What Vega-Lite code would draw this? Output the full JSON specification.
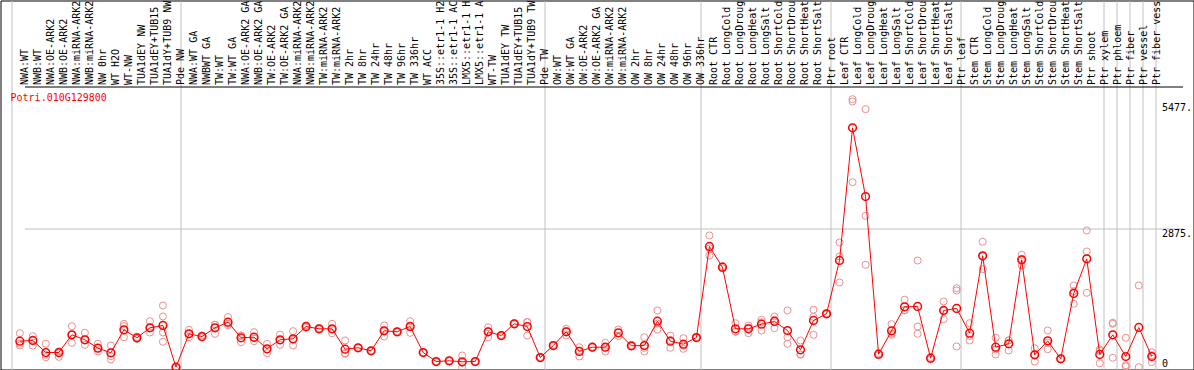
{
  "$schema": "https://vega.github.io/schema/vega-lite/v6.json",
  "width": 1193,
  "height": 369,
  "padding": {"left": 0.5, "top": 0.5, "right": 0, "bottom": 0},
  "autosize": {"type": "none"},
  "background": "white",
  "config": {"view": {"stroke": "black", "strokeWidth": 1}, "font": "DejaVu Sans Mono"},
  "datasets": {
    "means": [
      {"n": 1, "v": 540}, {"n": 2, "v": 555}, {"n": 3, "v": 305}, {"n": 4, "v": 305}, {"n": 5, "v": 673},
      {"n": 6, "v": 569}, {"n": 7, "v": 395}, {"n": 8, "v": 299}, {"n": 9, "v": 777}, {"n": 10, "v": 611},
      {"n": 11, "v": 818}, {"n": 12, "v": 866}, {"n": 13, "v": 0}, {"n": 14, "v": 693}, {"n": 15, "v": 637},
      {"n": 16, "v": 818}, {"n": 17, "v": 935}, {"n": 18, "v": 611}, {"n": 19, "v": 623}, {"n": 20, "v": 382},
      {"n": 21, "v": 569}, {"n": 22, "v": 590}, {"n": 23, "v": 845}, {"n": 24, "v": 797}, {"n": 25, "v": 797},
      {"n": 26, "v": 374}, {"n": 27, "v": 403}, {"n": 28, "v": 341}, {"n": 29, "v": 756}, {"n": 30, "v": 735},
      {"n": 31, "v": 845}, {"n": 32, "v": 305}, {"n": 33, "v": 118}, {"n": 34, "v": 133}, {"n": 35, "v": 112},
      {"n": 36, "v": 118}, {"n": 37, "v": 735}, {"n": 38, "v": 658}, {"n": 39, "v": 901}, {"n": 40, "v": 845},
      {"n": 41, "v": 201}, {"n": 42, "v": 450}, {"n": 43, "v": 735}, {"n": 44, "v": 326}, {"n": 45, "v": 415},
      {"n": 46, "v": 415}, {"n": 47, "v": 714}, {"n": 48, "v": 444}, {"n": 49, "v": 450}, {"n": 50, "v": 955},
      {"n": 51, "v": 540}, {"n": 52, "v": 478}, {"n": 53, "v": 615}, {"n": 54, "v": 2507}, {"n": 55, "v": 2077},
      {"n": 56, "v": 797}, {"n": 57, "v": 797}, {"n": 58, "v": 893}, {"n": 59, "v": 949}, {"n": 60, "v": 762},
      {"n": 61, "v": 361}, {"n": 62, "v": 970}, {"n": 63, "v": 1109}, {"n": 64, "v": 2216}, {"n": 65, "v": 4972},
      {"n": 66, "v": 3545}, {"n": 67, "v": 270}, {"n": 68, "v": 756}, {"n": 69, "v": 1254}, {"n": 70, "v": 1261},
      {"n": 71, "v": 187}, {"n": 72, "v": 1178}, {"n": 73, "v": 1219}, {"n": 74, "v": 706}, {"n": 75, "v": 2314},
      {"n": 76, "v": 415}, {"n": 77, "v": 486}, {"n": 78, "v": 2231}, {"n": 79, "v": 258}, {"n": 80, "v": 548},
      {"n": 81, "v": 174}, {"n": 82, "v": 1531}, {"n": 83, "v": 2251}, {"n": 84, "v": 264}, {"n": 85, "v": 673},
      {"n": 86, "v": 222}, {"n": 87, "v": 825}, {"n": 88, "v": 222}
    ],
    "reps": [
      {"n": 1, "v": 706}, {"n": 1, "v": 486}, {"n": 1, "v": 450},
      {"n": 2, "v": 644}, {"n": 2, "v": 555}, {"n": 2, "v": 450},
      {"n": 3, "v": 486}, {"n": 3, "v": 258}, {"n": 3, "v": 208},
      {"n": 4, "v": 330}, {"n": 4, "v": 290}, {"n": 4, "v": 215},
      {"n": 5, "v": 852}, {"n": 5, "v": 673}, {"n": 5, "v": 507},
      {"n": 6, "v": 714}, {"n": 6, "v": 569}, {"n": 6, "v": 465},
      {"n": 7, "v": 486}, {"n": 7, "v": 395}, {"n": 7, "v": 326},
      {"n": 8, "v": 450}, {"n": 8, "v": 228}, {"n": 8, "v": 160},
      {"n": 9, "v": 901}, {"n": 9, "v": 852}, {"n": 9, "v": 623},
      {"n": 10, "v": 630}, {"n": 10, "v": 611}, {"n": 10, "v": 590},
      {"n": 11, "v": 955}, {"n": 11, "v": 818}, {"n": 11, "v": 721},
      {"n": 12, "v": 1281}, {"n": 12, "v": 1053}, {"n": 12, "v": 880}, {"n": 12, "v": 721}, {"n": 12, "v": 528},
      {"n": 13, "v": 0}, {"n": 13, "v": 0},
      {"n": 14, "v": 777}, {"n": 14, "v": 623}, {"n": 14, "v": 693},
      {"n": 15, "v": 660}, {"n": 15, "v": 620},
      {"n": 16, "v": 880}, {"n": 16, "v": 693}, {"n": 16, "v": 880},
      {"n": 17, "v": 1039}, {"n": 17, "v": 901}, {"n": 17, "v": 870},
      {"n": 18, "v": 658}, {"n": 18, "v": 519}, {"n": 18, "v": 655},
      {"n": 19, "v": 727}, {"n": 19, "v": 540}, {"n": 19, "v": 600},
      {"n": 20, "v": 486}, {"n": 20, "v": 291}, {"n": 20, "v": 370},
      {"n": 21, "v": 679}, {"n": 21, "v": 465}, {"n": 21, "v": 560},
      {"n": 22, "v": 748}, {"n": 22, "v": 450}, {"n": 22, "v": 570},
      {"n": 23, "v": 870}, {"n": 23, "v": 820},
      {"n": 24, "v": 810}, {"n": 24, "v": 785},
      {"n": 25, "v": 901}, {"n": 25, "v": 706}, {"n": 25, "v": 785},
      {"n": 26, "v": 555}, {"n": 26, "v": 278}, {"n": 26, "v": 290},
      {"n": 27, "v": 410}, {"n": 27, "v": 395},
      {"n": 28, "v": 350}, {"n": 28, "v": 332},
      {"n": 29, "v": 866}, {"n": 29, "v": 637}, {"n": 29, "v": 765},
      {"n": 30, "v": 745}, {"n": 30, "v": 725},
      {"n": 31, "v": 955}, {"n": 31, "v": 714}, {"n": 31, "v": 866},
      {"n": 32, "v": 310}, {"n": 32, "v": 300},
      {"n": 33, "v": 125}, {"n": 33, "v": 110},
      {"n": 34, "v": 140}, {"n": 34, "v": 126},
      {"n": 35, "v": 243}, {"n": 35, "v": 0}, {"n": 35, "v": 93},
      {"n": 36, "v": 125}, {"n": 36, "v": 110},
      {"n": 37, "v": 831}, {"n": 37, "v": 623}, {"n": 37, "v": 750},
      {"n": 38, "v": 670}, {"n": 38, "v": 645},
      {"n": 39, "v": 915}, {"n": 39, "v": 890},
      {"n": 40, "v": 935}, {"n": 40, "v": 658}, {"n": 40, "v": 940},
      {"n": 41, "v": 210}, {"n": 41, "v": 192},
      {"n": 42, "v": 460}, {"n": 42, "v": 440},
      {"n": 43, "v": 797}, {"n": 43, "v": 658}, {"n": 43, "v": 750},
      {"n": 44, "v": 415}, {"n": 44, "v": 222}, {"n": 44, "v": 340},
      {"n": 45, "v": 425}, {"n": 45, "v": 405},
      {"n": 46, "v": 507}, {"n": 46, "v": 326}, {"n": 46, "v": 410},
      {"n": 47, "v": 783}, {"n": 47, "v": 645},
      {"n": 48, "v": 455}, {"n": 48, "v": 433},
      {"n": 49, "v": 623}, {"n": 49, "v": 326}, {"n": 49, "v": 400},
      {"n": 50, "v": 1178}, {"n": 50, "v": 783}, {"n": 50, "v": 905},
      {"n": 51, "v": 658}, {"n": 51, "v": 403}, {"n": 51, "v": 560},
      {"n": 52, "v": 602}, {"n": 52, "v": 382}, {"n": 52, "v": 450},
      {"n": 53, "v": 625}, {"n": 53, "v": 605},
      {"n": 54, "v": 2735}, {"n": 54, "v": 2320}, {"n": 54, "v": 2466},
      {"n": 55, "v": 2100}, {"n": 55, "v": 2054},
      {"n": 56, "v": 914}, {"n": 56, "v": 741}, {"n": 56, "v": 736},
      {"n": 57, "v": 866}, {"n": 57, "v": 706}, {"n": 57, "v": 820},
      {"n": 58, "v": 984}, {"n": 58, "v": 762}, {"n": 58, "v": 933},
      {"n": 59, "v": 1053}, {"n": 59, "v": 810}, {"n": 59, "v": 985},
      {"n": 60, "v": 1178}, {"n": 60, "v": 623}, {"n": 60, "v": 486},
      {"n": 61, "v": 555}, {"n": 61, "v": 258}, {"n": 61, "v": 270},
      {"n": 62, "v": 1192}, {"n": 62, "v": 673}, {"n": 62, "v": 1045},
      {"n": 63, "v": 1120}, {"n": 63, "v": 1098},
      {"n": 64, "v": 2590}, {"n": 64, "v": 2299}, {"n": 64, "v": 1760},
      {"n": 65, "v": 5566}, {"n": 65, "v": 5518}, {"n": 65, "v": 3842},
      {"n": 66, "v": 5359}, {"n": 66, "v": 3145}, {"n": 66, "v": 2127},
      {"n": 67, "v": 290}, {"n": 67, "v": 250},
      {"n": 68, "v": 893}, {"n": 68, "v": 673}, {"n": 68, "v": 700},
      {"n": 69, "v": 1400}, {"n": 69, "v": 1178}, {"n": 69, "v": 1185},
      {"n": 70, "v": 2216}, {"n": 70, "v": 845}, {"n": 70, "v": 693},
      {"n": 71, "v": 210}, {"n": 71, "v": 165},
      {"n": 72, "v": 1365}, {"n": 72, "v": 997}, {"n": 72, "v": 1172},
      {"n": 73, "v": 1641}, {"n": 73, "v": 1593}, {"n": 73, "v": 430},
      {"n": 74, "v": 914}, {"n": 74, "v": 555}, {"n": 74, "v": 650},
      {"n": 75, "v": 2605}, {"n": 75, "v": 2035}, {"n": 75, "v": 2302},
      {"n": 76, "v": 611}, {"n": 76, "v": 264}, {"n": 76, "v": 370},
      {"n": 77, "v": 555}, {"n": 77, "v": 347}, {"n": 77, "v": 556},
      {"n": 78, "v": 2335}, {"n": 78, "v": 2112}, {"n": 78, "v": 2246},
      {"n": 79, "v": 395}, {"n": 79, "v": 118}, {"n": 79, "v": 261},
      {"n": 80, "v": 762}, {"n": 80, "v": 374}, {"n": 80, "v": 508},
      {"n": 81, "v": 185}, {"n": 81, "v": 163},
      {"n": 82, "v": 1697}, {"n": 82, "v": 1317}, {"n": 82, "v": 1580},
      {"n": 83, "v": 2839}, {"n": 83, "v": 2403}, {"n": 83, "v": 1545},
      {"n": 84, "v": 368}, {"n": 84, "v": 83}, {"n": 84, "v": 340},
      {"n": 85, "v": 901}, {"n": 85, "v": 195}, {"n": 85, "v": 923},
      {"n": 86, "v": 611}, {"n": 86, "v": 15}, {"n": 86, "v": 40},
      {"n": 87, "v": 1697}, {"n": 87, "v": 0},
      {"n": 88, "v": 312}, {"n": 88, "v": 104}, {"n": 88, "v": 250}
    ]
  },
  "encoding": {
    "x": {
      "field": "n", "type": "ordinal", "bandPosition": 0.64,
      "scale": {
        "type": "band", "paddingInner": 0, "paddingOuter": 0, "range": [11, 1169],
        "domain": [1,2,3,4,5,6,7,8,9,10,11,12,13,14,15,16,17,18,19,20,21,22,23,24,25,26,27,28,29,30,31,32,33,34,35,36,37,38,39,40,41,42,43,44,45,46,47,48,49,50,51,52,53,54,55,56,57,58,59,60,61,62,63,64,65,66,67,68,69,70,71,72,73,74,75,76,77,78,79,80,81,82,83,84,85,86,87,88,89]
      },
      "axis": {
        "orient": "top", "ticks": false, "domain": false, "title": null,
        "grid": true, "gridColor": "#c0c0c0", "gridWidth": 1,
        "gridOpacity": {"condition": {"test": "indexof([1,14,42,54,64,74,85,86,87,88,89], datum.value) >= 0", "value": 1}, "value": 0},
        "bandPosition": 0, "labelOffset": 9.8,
        "labelAngle": 270, "labelAlign": "left", "labelBaseline": "alphabetic", "labelPadding": -84,
        "labelFont": "DejaVu Sans Mono", "labelFontSize": 10, "labelColor": "black",
        "labelOverlap": false, "labelBound": false, "labelLimit": 200,
        "labelExpr": "datum.value > 88 ? '' : ['NWA:WT','NWB:WT','NWA:OE-ARK2','NWB:OE-ARK2','NWA:miRNA-ARK2','NWB:miRNA-ARK2','NW 0hr','WT H2O','WT-NW','TUA1dEY NW','TUA1dEY+TUB15','TUA1dY+TUB9 NW','Pde NW','NWA:WT GA','NWBWT GA','TW:WT','TW:WT GA','NWA:OE-ARK2 GA','NWB:OE-ARK2 GA','TW:OE-ARK2','TW:OE-ARK2 GA','NWA:miRNA-ARK2','NWB:miRNA-ARK2','TW:miRNA-ARK2','TW:miRNA-ARK2','TW 2hr','TW 8hr','TW 24hr','TW 48hr','TW 96hr','TW 336hr','WT ACC','35S::etr1-1 H2','35S::etr1-1 AC','LMX5::etr1-1 H','LMX5::etr1-1 A','WT-TW','TUA1dEY TW','TUA1dEY+TUB15','TUA1dY+TUB9 TW','Pde TW','OW:WT','OW:WT GA','OW:OE-ARK2','OW:OE-ARK2 GA','OW:miRNA-ARK2','OW:miRNA-ARK2','OW 2hr','OW 8hr','OW 24hr','OW 48hr','OW 96hr','OW 336hr','Root CTR','Root LongCold','Root LongDroug','Root LongHeat','Root LongSalt','Root ShortCold','Root ShortDrou','Root ShortHeat','Root ShortSalt','Ptr root','Leaf CTR','Leaf LongCold','Leaf LongDroug','Leaf LongHeat','Leaf LongSalt','Leaf ShortCold','Leaf ShortDrou','Leaf ShortHeat','Leaf ShortSalt','Ptr leaf','Stem CTR','Stem LongCold','Stem LongDroug','Stem LongHeat','Stem LongSalt','Stem ShortCold','Stem ShortDrou','Stem ShortHeat','Stem ShortSalt','Ptr shoot','Ptr xylem','Ptr phloem','Ptr fiber','Ptr vessel','Ptr fiber vess'][datum.value - 1]"
      }
    },
    "y": {
      "field": "v", "type": "quantitative",
      "scale": {"domain": [-48, 7616], "zero": false, "nice": false},
      "axis": {
        "orient": "right", "values": [0, 2875, 5477, 5830], "ticks": false, "domain": false, "title": null,
        "grid": true, "gridWidth": 1,
        "gridColor": {"condition": {"test": "datum.value === 5830", "value": "black"}, "value": "#c0c0c0"},
        "gridOpacity": {"condition": {"test": "datum.value === 0 || datum.value === 5477", "value": 0}, "value": 1},
        "labelExpr": "datum.value === 0 ? '0' : datum.value === 5830 ? '' : datum.value + '.'",
        "labelAlign": "left", "labelBaseline": "alphabetic", "labelPadding": -32,
        "labelOffset": {"condition": {"test": "datum.value === 0", "value": -1}, "value": 7.5},
        "labelFont": "DejaVu Sans Mono", "labelFontSize": 10, "labelColor": "black"
      }
    }
  },
  "layer": [
    {
      "data": {"name": "reps"},
      "mark": {"type": "point", "shape": "circle", "filled": false, "color": "#eb8f8f", "size": 50, "strokeWidth": 1, "opacity": 1}
    },
    {
      "data": {"name": "means"},
      "mark": {"type": "line", "color": "red", "strokeWidth": 1}
    },
    {
      "data": {"name": "means"},
      "mark": {"type": "point", "shape": "circle", "filled": false, "color": "red", "size": 60, "strokeWidth": 1.5, "opacity": 1}
    },
    {
      "data": {"values": [{"n": 1, "v": 5539, "t": "Potri.010G129800"}]},
      "mark": {"type": "text", "color": "red", "font": "DejaVu Sans Mono", "fontSize": 10, "align": "left", "baseline": "alphabetic", "dx": -9.3},
      "encoding": {"text": {"field": "t"}}
    }
  ]
}
